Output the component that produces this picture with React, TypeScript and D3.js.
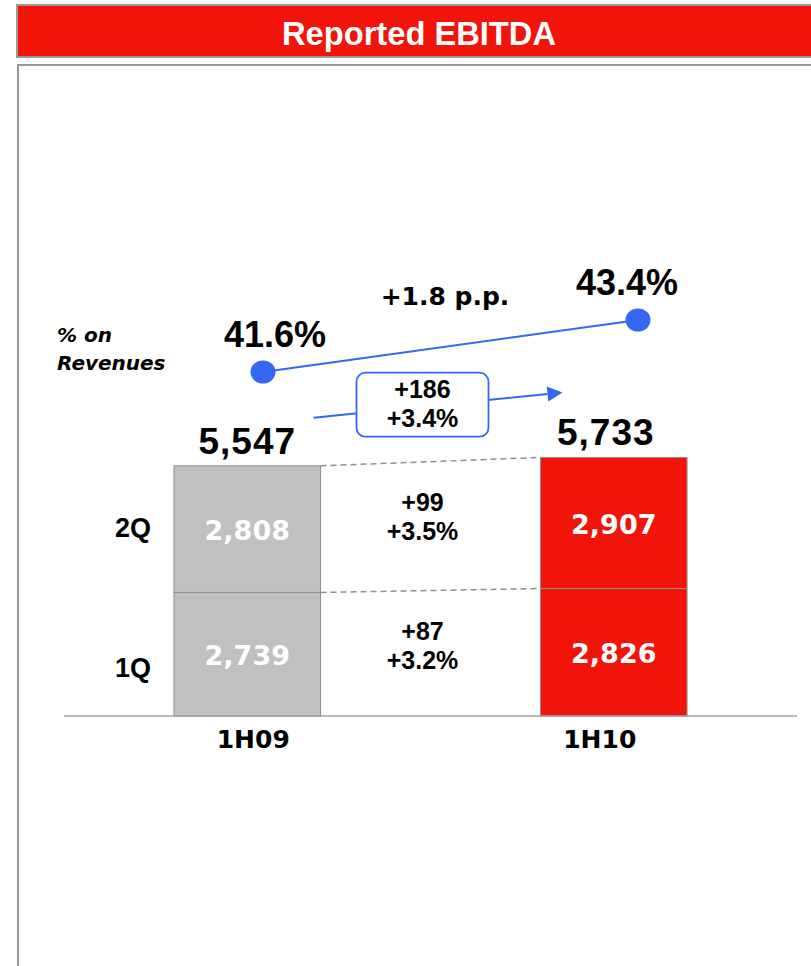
import React from 'react';
import * as d3 from 'd3';

// ---- data ----
const periods = ['1H09', '1H10'];
const q1Values = [2739, 2826];
const q2Values = [2808, 2907];
const totals = [5547, 5733];
const marginPct = [41.6, 43.4];
const quarterLabels = ['1Q', '2Q'];
const q1Delta = ['+87', '+3.2%'];
const q2Delta = ['+99', '+3.5%'];
const totalDelta = ['+186', '+3.4%'];
const marginDelta = '+1.8 p.p.';
const title = 'Reported EBITDA';
const marginLabel = ['% on', 'Revenues'];
const periodLabelDx = [6, -14];
const totalLabelDx = [0, -8];

const W = 811;
const H = 966;
const RED = '#f2130a';
const GREY_BAR = '#c0c0c0';
const BLUE = '#3567f5';
const EDGE = '#8f8f8f';
const FRAME = '#9a9a9a';
const FA = "'Liberation Sans', Arial, Helvetica, sans-serif";
const FB = "'DejaVu Sans', Verdana, sans-serif";

export default function App() {
  const x = d3.scaleBand<string>().domain(periods).range([64, 797]).paddingInner(0.6).paddingOuter(0.3);
  const bw = x.bandwidth();
  const y = d3.scaleLinear().domain([0, 6000]).range([716, 716 - 6000 * 0.0451]);
  const px = d3.scalePoint<string>().domain(periods).range([263, 638]);
  const py = d3.scaleLinear().domain([marginPct[0], marginPct[1]]).range([372, 320]);

  const rows = periods.map((p, i) => ({ period: p, q1: q1Values[i], q2: q2Values[i] }));
  const stack = d3.stack<any>().keys(['q1', 'q2'])(rows);
  const fills = [GREY_BAR, RED];

  const x0 = x(periods[0])!;
  const x1 = x(periods[1])!;
  const gapMid = (x0 + bw + x1) / 2 - 8;

  const line = d3.line<number>().x((_, i) => px(periods[i])!).y((d) => py(d));

  // growth arrow
  const a0 = [x0 + bw - 7, y(totals[0]) - 48];
  const a1 = [x1 + 22, y(totals[1]) - 65];
  const ang = Math.atan2(a1[1] - a0[1], a1[0] - a0[0]);
  const ah = 15;
  const aw = 7.5;
  const base = [a1[0] - ah * Math.cos(ang), a1[1] - ah * Math.sin(ang)];
  const arrowHead = [
    [a1[0], a1[1]],
    [base[0] - aw * Math.sin(ang), base[1] + aw * Math.cos(ang)],
    [base[0] + aw * Math.sin(ang), base[1] - aw * Math.cos(ang)],
  ];
  const boxCx = gapMid;
  const boxCy = a0[1] + (boxCx - a0[0]) * Math.tan(ang) - 2;

  return (
    <svg width={W} height={H} style={{ position: 'absolute', left: 0, top: 0, background: '#fff' }}>
      {/* header */}
      <rect x={17} y={5} width={820} height={52} fill={RED} stroke={FRAME} strokeWidth={2} />
      <text x={419} y={45} textAnchor="middle" fill="#fff" fontFamily={"'Liberation Sans Narrow', " + FA}
        fontWeight="bold" fontSize={34} textLength={274} lengthAdjust="spacingAndGlyphs">{title}</text>
      {/* frame */}
      <rect x={18} y={65} width={830} height={940} fill="#fff" stroke={FRAME} strokeWidth={2} />

      {/* bars */}
      {stack.map((layer, li) => (
        <g key={li}>
          {layer.map((d, i) => (
            <rect key={i} x={x(periods[i])} y={y(d[1])} width={bw} height={y(d[0]) - y(d[1])}
              fill={fills[i]} stroke={EDGE} strokeWidth={1} />
          ))}
        </g>
      ))}

      {/* connectors */}
      {[totals, q1Values].map((vals, k) => (
        <line key={k} x1={x0 + bw} y1={y(vals[0])} x2={x1} y2={y(vals[1])} stroke={EDGE}
          strokeWidth={1.5} strokeDasharray="6,4" />
      ))}

      {/* baseline */}
      <line x1={64} x2={797} y1={y(0)} y2={y(0)} stroke="#a0a0a0" strokeWidth={1.5} />

      {/* segment values */}
      {stack.map((layer, li) =>
        layer.map((d, i) => (
          <text key={`${li}-${i}`} x={x(periods[i])! + bw / 2} y={(y(d[0]) + y(d[1])) / 2 + 11}
            textAnchor="middle" fill="#fff" fontFamily={FB} fontWeight="bold" fontSize={27}>
            {d3.format(',')(d[1] - d[0])}
          </text>
        ))
      )}

      {/* quarter labels */}
      <text x={133} y={y(q1Values[0] / 2) + 23} textAnchor="middle" fontFamily={FA} fontWeight="bold" fontSize={27}>{quarterLabels[0]}</text>
      <text x={133} y={y(q1Values[0] + q2Values[0] / 2) + 8} textAnchor="middle" fontFamily={FA} fontWeight="bold" fontSize={27}>{quarterLabels[1]}</text>

      {/* totals */}
      {totals.map((t, i) => (
        <text key={i} x={x(periods[i])! + bw / 2 + totalLabelDx[i]} y={y(t) - 12} textAnchor="middle"
          fontFamily={FA} fontWeight="bold" fontSize={37} letterSpacing={1}>{d3.format(',')(t)}</text>
      ))}

      {/* period labels */}
      {periods.map((p, i) => (
        <text key={p} x={x(p)! + bw / 2 + periodLabelDx[i]} y={748} textAnchor="middle"
          fontFamily={FB} fontWeight="bold" fontSize={25}>{p}</text>
      ))}

      {/* deltas */}
      {[q2Delta, q1Delta].map((dl, k) => {
        const mid = k === 0
          ? (y(q1Values[0] + q2Values[0] / 2) + y(q1Values[1] + q2Values[1] / 2)) / 2 - 15
          : (y(q1Values[0] / 2) + y(q1Values[1] / 2)) / 2 - 13;
        return (
          <text key={k} textAnchor="middle" fontFamily={FA} fontWeight="bold" fontSize={25}>
            <tspan x={gapMid} y={mid}>{dl[0]}</tspan>
            <tspan x={gapMid} y={mid + 29}>{dl[1]}</tspan>
          </text>
        );
      })}

      {/* growth arrow */}
      <line x1={a0[0]} y1={a0[1]} x2={base[0]} y2={base[1]} stroke={BLUE} strokeWidth={2} />
      <polygon points={arrowHead.map((p) => p.join(',')).join(' ')} fill={BLUE} />
      <rect x={boxCx - 66} y={boxCy - 32} width={132} height={64} rx={9} fill="#fff" stroke={BLUE} strokeWidth={1.8} />
      <text textAnchor="middle" fontFamily={FA} fontWeight="bold" fontSize={25}>
        <tspan x={boxCx} y={boxCy - 7}>{totalDelta[0]}</tspan>
        <tspan x={boxCx} y={boxCy + 22}>{totalDelta[1]}</tspan>
      </text>

      {/* margin line */}
      <path d={line(marginPct)!} fill="none" stroke={BLUE} strokeWidth={2} />
      {marginPct.map((m, i) => (
        <ellipse key={i} cx={px(periods[i])} cy={py(m)} rx={12.5} ry={11.5} fill={BLUE} />
      ))}
      <text x={px(periods[0])! + 12} y={py(marginPct[0]) - 25} textAnchor="middle" fontFamily={FA} fontWeight="bold" fontSize={36}>{marginPct[0].toFixed(1)}%</text>
      <text x={px(periods[1])! - 11} y={py(marginPct[1]) - 25} textAnchor="middle" fontFamily={FA} fontWeight="bold" fontSize={36}>{marginPct[1].toFixed(1)}%</text>
      <text x={445} y={305} textAnchor="middle" fontFamily={FB} fontWeight="bold" fontSize={25}>{marginDelta}</text>

      <text fontFamily={FB} fontWeight="bold" fontStyle="italic" fontSize={20}>
        <tspan x={57} y={342}>{marginLabel[0]}</tspan>
        <tspan x={57} y={370}>{marginLabel[1]}</tspan>
      </text>
    </svg>
  );
}
